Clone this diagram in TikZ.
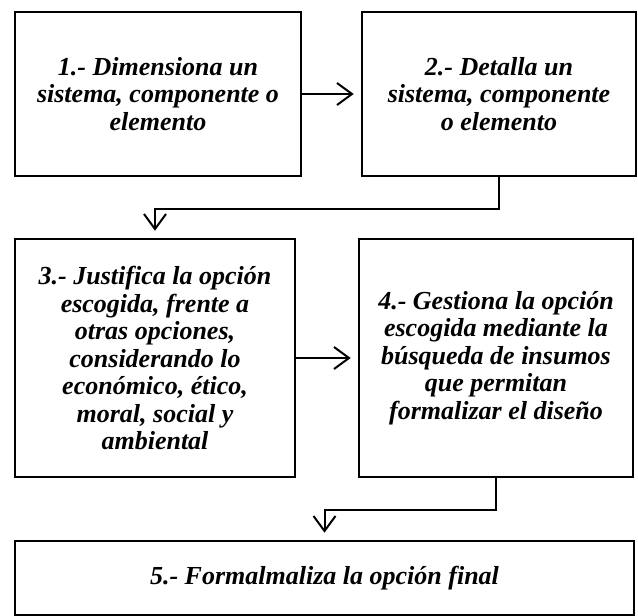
\documentclass[tikz,border=0pt]{standalone}
\usepackage{fontspec}
\setmainfont{Liberation Serif}
\usepackage{tikz}
\usetikzlibrary{arrows.meta}

\begin{document}
\begin{tikzpicture}[x=1pt, y=-1pt,
    paso/.style={draw, line width=2.6pt, rectangle, align=center, inner sep=0pt,
                 font=\fontsize{26}{27.5}\selectfont\bfseries\itshape},
    enlace/.style={line width=2pt, -{Straight Barb[length=15pt,width=22pt,line width=2pt]},
                   shorten >=7pt}]
    \useasboundingbox (0,0) rectangle (638,616);
    \node[paso, minimum width=286pt, minimum height=164pt] (dimensiona) at (158,94)
        {1.- Dimensiona un\\sistema, componente o\\elemento};
    \node[paso, minimum width=274pt, minimum height=164pt] (detalla) at (499,94)
        {2.- Detalla un\\sistema, componente\\o elemento};
    \node[paso, minimum width=280pt, minimum height=238pt] (justifica) at (155,358)
        {3.- Justifica la opción\\escogida, frente a\\otras opciones,\\considerando lo\\económico, ético,\\moral, social y\\ambiental};
    \node[paso, minimum width=274pt, minimum height=238pt] (gestiona) at (496,358)
        {4.- Gestiona la opción\\escogida mediante la\\búsqueda de insumos\\que permitan\\formalizar el diseño};
    \node[paso, minimum width=619pt, minimum height=74pt] (formaliza) at (324.5,578)
        {5.- Formalmaliza la opción final};
    \draw[enlace] (dimensiona.east) -- (detalla.west);
    \draw[enlace] (detalla.south) -- ++(0,32) -| (justifica.north);
    \draw[enlace] (justifica.east) -- (gestiona.west);
    \draw[enlace] (gestiona.south) -- ++(0,32) -| (formaliza.north);
\end{tikzpicture}
\end{document}
